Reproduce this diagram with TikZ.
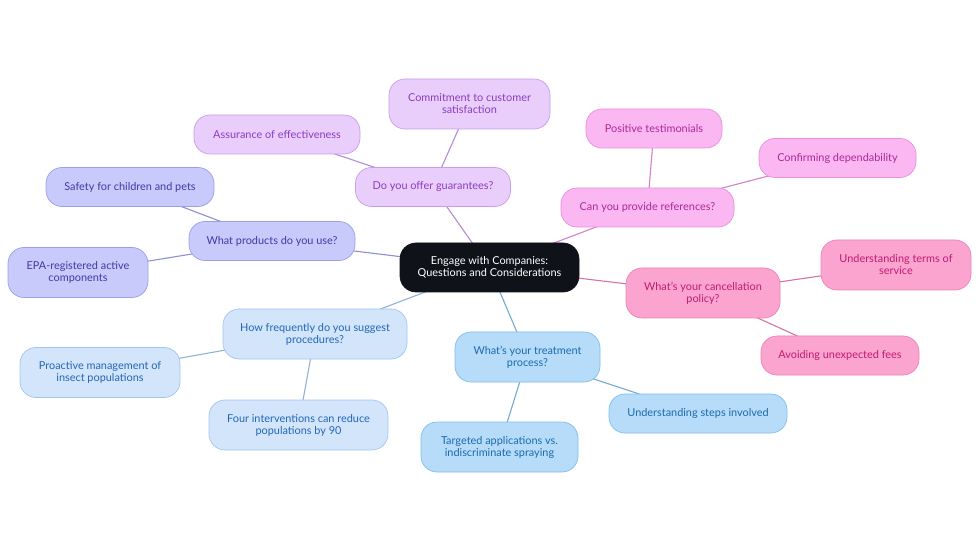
\documentclass[tikz,border=0pt]{standalone}
\usepackage{fontspec}
\setmainfont{Lato}
\usetikzlibrary{backgrounds}

\definecolor{rootfill}{HTML}{0F1319}
\definecolor{guarfill}{HTML}{E9CDFB}\definecolor{guardraw}{HTML}{C79DEC}\definecolor{guartext}{HTML}{8A3CC2}
\definecolor{prodfill}{HTML}{C8CAFB}\definecolor{proddraw}{HTML}{9C9FE6}\definecolor{prodtext}{HTML}{3B3CA4}
\definecolor{freqfill}{HTML}{D2E5FB}\definecolor{freqdraw}{HTML}{A3C5ED}\definecolor{freqtext}{HTML}{2266B8}
\definecolor{treafill}{HTML}{B6DCFA}\definecolor{treadraw}{HTML}{80BDE9}\definecolor{treatext}{HTML}{1A6AAE}
\definecolor{reffill}{HTML}{FAB7F1}\definecolor{refdraw}{HTML}{EA8EDC}\definecolor{reftext}{HTML}{AE2896}
\definecolor{canfill}{HTML}{FBA4CF}\definecolor{candraw}{HTML}{E883B6}\definecolor{cantext}{HTML}{C21A72}

\tikzset{
  box/.style={rounded corners=16pt, draw, line width=0.7pt, align=center,
    minimum height=39pt, inner sep=2pt, font=\fontsize{10.9}{12}\selectfont},
  tall/.style={minimum height=50pt},
  rootbox/.style={box, fill=rootfill, draw=rootfill, text=white, minimum height=49pt},
  guar/.style={box, fill=guarfill, draw=guardraw, text=guartext},
  prod/.style={box, fill=prodfill, draw=proddraw, text=prodtext},
  freq/.style={box, fill=freqfill, draw=freqdraw, text=freqtext},
  trea/.style={box, fill=treafill, draw=treadraw, text=treatext},
  refs/.style={box, fill=reffill, draw=refdraw, text=reftext},
  canc/.style={box, fill=canfill, draw=candraw, text=cantext},
  link/.style={line width=1.1pt}
}

\begin{document}
\begin{tikzpicture}[x=1pt,y=-1pt]
  \useasboundingbox (0,0) rectangle (980,553);

  % centre
  \node[rootbox, minimum width=179pt] (root) at (489.5,267.5) {Engage with Companies:\\Questions and Considerations};

  % guarantees
  \node[guar, minimum width=155pt] (guar) at (433,187) {Do you offer guarantees?};
  \node[guar, tall, minimum width=161pt] (commit) at (469.5,104) {Commitment to customer\\satisfaction};
  \node[guar, minimum width=166pt] (assur) at (277,134.5) {Assurance of effectiveness};

  % products
  \node[prod, minimum width=166pt] (prod) at (272,241) {What products do you use?};
  \node[prod, minimum width=168pt] (safety) at (130,187) {Safety for children and pets};
  \node[prod, tall, minimum width=140pt] (epa) at (78,272.5) {EPA-registered active\\components};

  % frequency
  \node[freq, tall, minimum width=184pt] (freq) at (315,334) {How frequently do you suggest\\procedures?};
  \node[freq, tall, minimum width=160pt] (proact) at (100,372.5) {Proactive management of\\insect populations};
  \node[freq, tall, minimum width=179pt] (four) at (298.5,425) {Four interventions can reduce\\populations by 90};

  % treatment
  \node[trea, tall, minimum width=145pt] (trea) at (527.5,357) {What's your treatment\\process?};
  \node[trea, minimum width=178pt] (steps) at (698,413.5) {Understanding steps involved};
  \node[trea, tall, minimum width=157pt] (target) at (499.5,447) {Targeted applications vs.\\indiscriminate spraying};

  % references
  \node[refs, minimum width=173pt] (refs) at (647.5,207.5) {Can you provide references?};
  \node[refs, minimum width=136pt] (testim) at (654,128.5) {Positive testimonials};
  \node[refs, minimum width=157pt] (depend) at (837.5,158) {Confirming dependability};

  % cancellation
  \node[canc, tall, minimum width=154pt] (canc) at (703,293) {What's your cancellation\\policy?};
  \node[canc, tall, minimum width=150pt] (terms) at (896,265) {Understanding terms of\\service};
  \node[canc, minimum width=158pt] (fees) at (840,355.5) {Avoiding unexpected fees};

  % links
  \begin{scope}[on background layer]
    \draw[link, guardraw!90!black] (root.center) -- (guar.center);
    \draw[link, guardraw!90!black] (guar.center) -- (commit.center);
    \draw[link, guardraw!90!black] (guar.center) -- (assur.center);
    \draw[link, proddraw!90!black] (root.center) -- (prod.center);
    \draw[link, proddraw!90!black] (prod.center) -- (safety.center);
    \draw[link, proddraw!90!black] (prod.center) -- (epa.center);
    \draw[link, freqdraw!90!black] (root.center) -- (freq.center);
    \draw[link, freqdraw!90!black] (freq.center) -- (proact.center);
    \draw[link, freqdraw!90!black] (freq.center) -- (four.center);
    \draw[link, treadraw!90!black] (root.center) -- (trea.center);
    \draw[link, treadraw!90!black] (trea.center) -- (steps.center);
    \draw[link, treadraw!90!black] (trea.center) -- (target.center);
    \draw[link, refdraw!90!black] (root.center) -- (refs.center);
    \draw[link, refdraw!90!black] (refs.center) -- (testim.center);
    \draw[link, refdraw!90!black] (refs.center) -- (depend.center);
    \draw[link, candraw!90!black] (root.center) -- (canc.center);
    \draw[link, candraw!90!black] (canc.center) -- (terms.center);
    \draw[link, candraw!90!black] (canc.center) -- (fees.center);
  \end{scope}
\end{tikzpicture}
\end{document}
